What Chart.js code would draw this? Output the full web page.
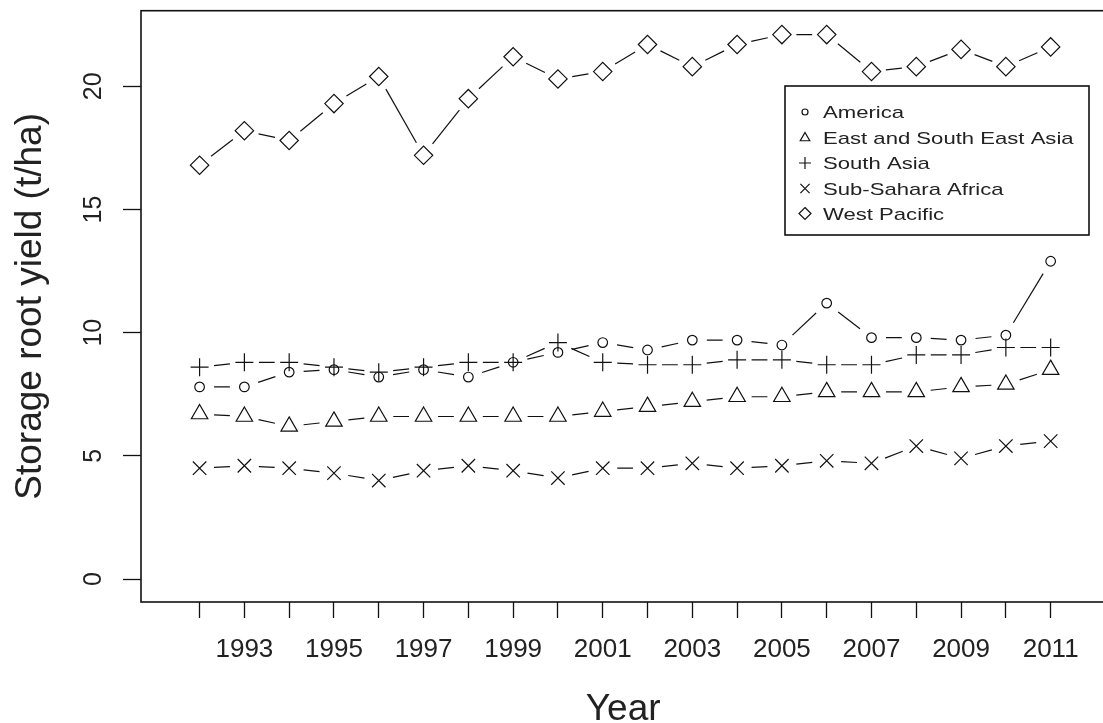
<!DOCTYPE html>
<html><head><meta charset="utf-8">
<script src="https://cdn.jsdelivr.net/npm/chart.js@4"></script>
<style>
html,body{margin:0;padding:0;overflow:hidden;background:#fff;width:1103px;height:723px}
#wrap{position:absolute;left:0;top:0;width:1116px;height:723px}
canvas{display:block}
</style>
</head><body><div id="wrap"><canvas id="c" width="1116" height="723" style="width:1116px;height:723px"></canvas></div>
<script>
const years = [1992,1993,1994,1995,1996,1997,1998,1999,2000,2001,2002,2003,2004,2005,2006,2007,2008,2009,2010,2011];
const americaYield = [7.8,7.8,8.4,8.5,8.2,8.5,8.2,8.8,9.2,9.6,9.3,9.7,9.7,9.5,11.2,9.8,9.8,9.7,9.9,12.9];
const eastSouthEastAsiaYield = [6.7,6.6,6.2,6.4,6.6,6.6,6.6,6.6,6.6,6.8,7.0,7.2,7.4,7.4,7.6,7.6,7.6,7.8,7.9,8.5];
const southAsiaYield = [8.6,8.8,8.8,8.6,8.4,8.6,8.8,8.8,9.6,8.8,8.7,8.7,8.9,8.9,8.7,8.7,9.1,9.1,9.4,9.4];
const subSaharaAfricaYield = [4.5,4.6,4.5,4.3,4.0,4.4,4.6,4.4,4.1,4.5,4.5,4.7,4.5,4.6,4.8,4.7,5.4,4.9,5.4,5.6];
const westPacificYield = [16.8,18.2,17.8,19.3,20.4,17.2,19.5,21.2,20.3,20.6,21.7,20.8,21.7,22.1,22.1,20.6,20.8,21.5,20.8,21.6];
const seriesNames = ['America','East and South East Asia','South Asia','Sub-Sahara Africa','West Pacific'];
const yTickValues = [0,5,10,15,20];
const xTickLabels = ['1993','1995','1997','1999','2001','2003','2005','2007','2009','2011'];

const FONT = "'Liberation Sans', Arial, sans-serif";
const INK = '#111';
const styles = [
  {pointStyle:'circle', radius:4.8, legendRadius:3},
  {pointStyle:'triangle', radius:9.5, legendRadius:5.5},
  {pointStyle:'cross', radius:9, legendRadius:6},
  {pointStyle:'crossRot', radius:9.5, legendRadius:6.5},
  {pointStyle:'rectRot', radius:9.2, legendRadius:6}
];
const seriesValues = [americaYield, eastSouthEastAsiaYield, southAsiaYield, subSaharaAfricaYield, westPacificYield];

const datasets = seriesNames.map((name, i) => ({
  label: name,
  data: years.map((yr, j) => ({x: yr, y: seriesValues[i][j]})),
  showLine: false,
  pointStyle: styles[i].pointStyle,
  pointRadius: styles[i].radius,
  pointHoverRadius: styles[i].radius,
  pointBorderColor: INK,
  pointBorderWidth: 1.2,
  pointBackgroundColor: 'rgba(0,0,0,0)',
  borderColor: INK
}));

// R type="b" lines: segments with gaps around each point, from the library's point positions
const gapLines = {
  id: 'gapLines',
  beforeDatasetsDraw(chart) {
    const ctx = chart.ctx, a = chart.chartArea, gap = 14.5;
    ctx.save();
    ctx.beginPath(); ctx.rect(a.left, a.top, a.right - a.left, a.bottom - a.top); ctx.clip();
    ctx.strokeStyle = INK; ctx.lineWidth = 1.2;
    chart.data.datasets.forEach((ds, i) => {
      const pts = chart.getDatasetMeta(i).data;
      for (let k = 0; k < pts.length - 1; k++) {
        const p = pts[k], q = pts[k + 1];
        const dx = q.x - p.x, dy = q.y - p.y, d = Math.hypot(dx, dy);
        if (d <= 2 * gap) continue;
        const ux = dx / d, uy = dy / d;
        ctx.beginPath();
        ctx.moveTo(p.x + ux * gap, p.y + uy * gap);
        ctx.lineTo(q.x - ux * gap, q.y - uy * gap);
        ctx.stroke();
      }
    });
    ctx.restore();
  }
};

const frameBox = {
  id: 'frameBox',
  afterDraw(chart) {
    const ctx = chart.ctx, a = chart.chartArea;
    ctx.save();
    ctx.strokeStyle = INK; ctx.lineWidth = 1.6;
    ctx.strokeRect(a.left, a.top, a.right - a.left, a.bottom - a.top);
    ctx.restore();
  }
};

function drawMarker(ctx, style, r, x, y) {
  ctx.beginPath();
  if (style === 'circle') { ctx.arc(x, y, r, 0, Math.PI * 2); }
  else if (style === 'triangle') {
    for (let k = 0; k < 3; k++) {
      const ang = k * 2 * Math.PI / 3;
      const px = x + Math.sin(ang) * r, py = y - Math.cos(ang) * r;
      if (k === 0) ctx.moveTo(px, py); else ctx.lineTo(px, py);
    }
    ctx.closePath();
  } else if (style === 'cross') {
    ctx.moveTo(x - r, y); ctx.lineTo(x + r, y); ctx.moveTo(x, y - r); ctx.lineTo(x, y + r);
  } else if (style === 'crossRot') {
    const o = r * Math.SQRT1_2;
    ctx.moveTo(x - o, y - o); ctx.lineTo(x + o, y + o); ctx.moveTo(x - o, y + o); ctx.lineTo(x + o, y - o);
  } else if (style === 'rectRot') {
    ctx.moveTo(x, y - r); ctx.lineTo(x + r, y); ctx.lineTo(x, y + r); ctx.lineTo(x - r, y); ctx.closePath();
  }
  ctx.stroke();
}

const boxLegend = {
  id: 'boxLegend',
  afterDraw(chart) {
    const ctx = chart.ctx;
    const L = 785, T = 86, R = 1089, B = 235;
    const rows = [112, 138, 163, 188.5, 213.5];
    ctx.save();
    ctx.fillStyle = '#fff';
    ctx.fillRect(L, T, R - L, B - T);
    ctx.strokeStyle = INK; ctx.lineWidth = 1.6;
    ctx.strokeRect(L, T, R - L, B - T);
    chart.data.datasets.forEach((ds, i) => {
      ctx.strokeStyle = INK; ctx.lineWidth = 1.2;
      drawMarker(ctx, styles[i].pointStyle, styles[i].legendRadius, 805, rows[i]);
      ctx.save();
      ctx.translate(823, rows[i] + 6);
      ctx.scale(1.3, 1);
      ctx.fillStyle = '#222';
      ctx.font = '17px ' + FONT;
      ctx.textBaseline = 'alphabetic';
      ctx.fillText(ds.label, 0, 0);
      ctx.restore();
    });
    ctx.restore();
  }
};

new Chart(document.getElementById('c'), {
  type: 'line',
  data: {datasets},
  options: {
    responsive: false,
    animation: false,
    devicePixelRatio: 1,
    layout: {padding: {top: 8, right: 4, left: 0, bottom: 0}},
    plugins: {legend: {display: false}, tooltip: {enabled: false}},
    scales: {
      x: {
        type: 'linear',
        min: 1990.692, max: 2012.22,
        afterBuildTicks: s => { s.ticks = years.map(v => ({value: v})); },
        afterFit: s => { s.height = 121; s.paddingLeft = 0; s.paddingRight = 0; },
        ticks: {
          autoSkip: false, maxRotation: 0, minRotation: 0,
          font: {family: FONT, size: 26}, color: '#222', padding: 16,
          callback: v => xTickLabels.includes(String(v)) ? String(v) : ''
        },
        grid: {display: true, drawOnChartArea: false, drawTicks: true, tickLength: 16, tickColor: INK, tickWidth: 1.3, color: INK},
        border: {display: false},
        title: {display: true, text: 'Year', color: '#222', font: {family: FONT, size: 37, lineHeight: 0.7}, padding: 0}
      },
      y: {
        type: 'linear',
        min: -0.93, max: 23.07,
        afterBuildTicks: s => { s.ticks = yTickValues.map(v => ({value: v})); },
        afterFit: s => { s.width = 141; s.paddingTop = 0; s.paddingBottom = 0; },
        ticks: {
          font: {family: FONT, size: 25}, color: '#222', padding: 15,
          minRotation: 90, maxRotation: 90, crossAlign: 'center',
          callback: v => String(v)
        },
        grid: {display: true, drawOnChartArea: false, drawTicks: true, tickLength: 18, tickColor: INK, tickWidth: 1.3, color: INK},
        border: {display: false},
        title: {display: true, text: 'Storage root yield (t/ha)', color: '#222', font: {family: FONT, size: 37}, padding: {top: 9, bottom: 0}}
      }
    }
  },
  plugins: [gapLines, frameBox, boxLegend]
});
</script>
</body></html>
